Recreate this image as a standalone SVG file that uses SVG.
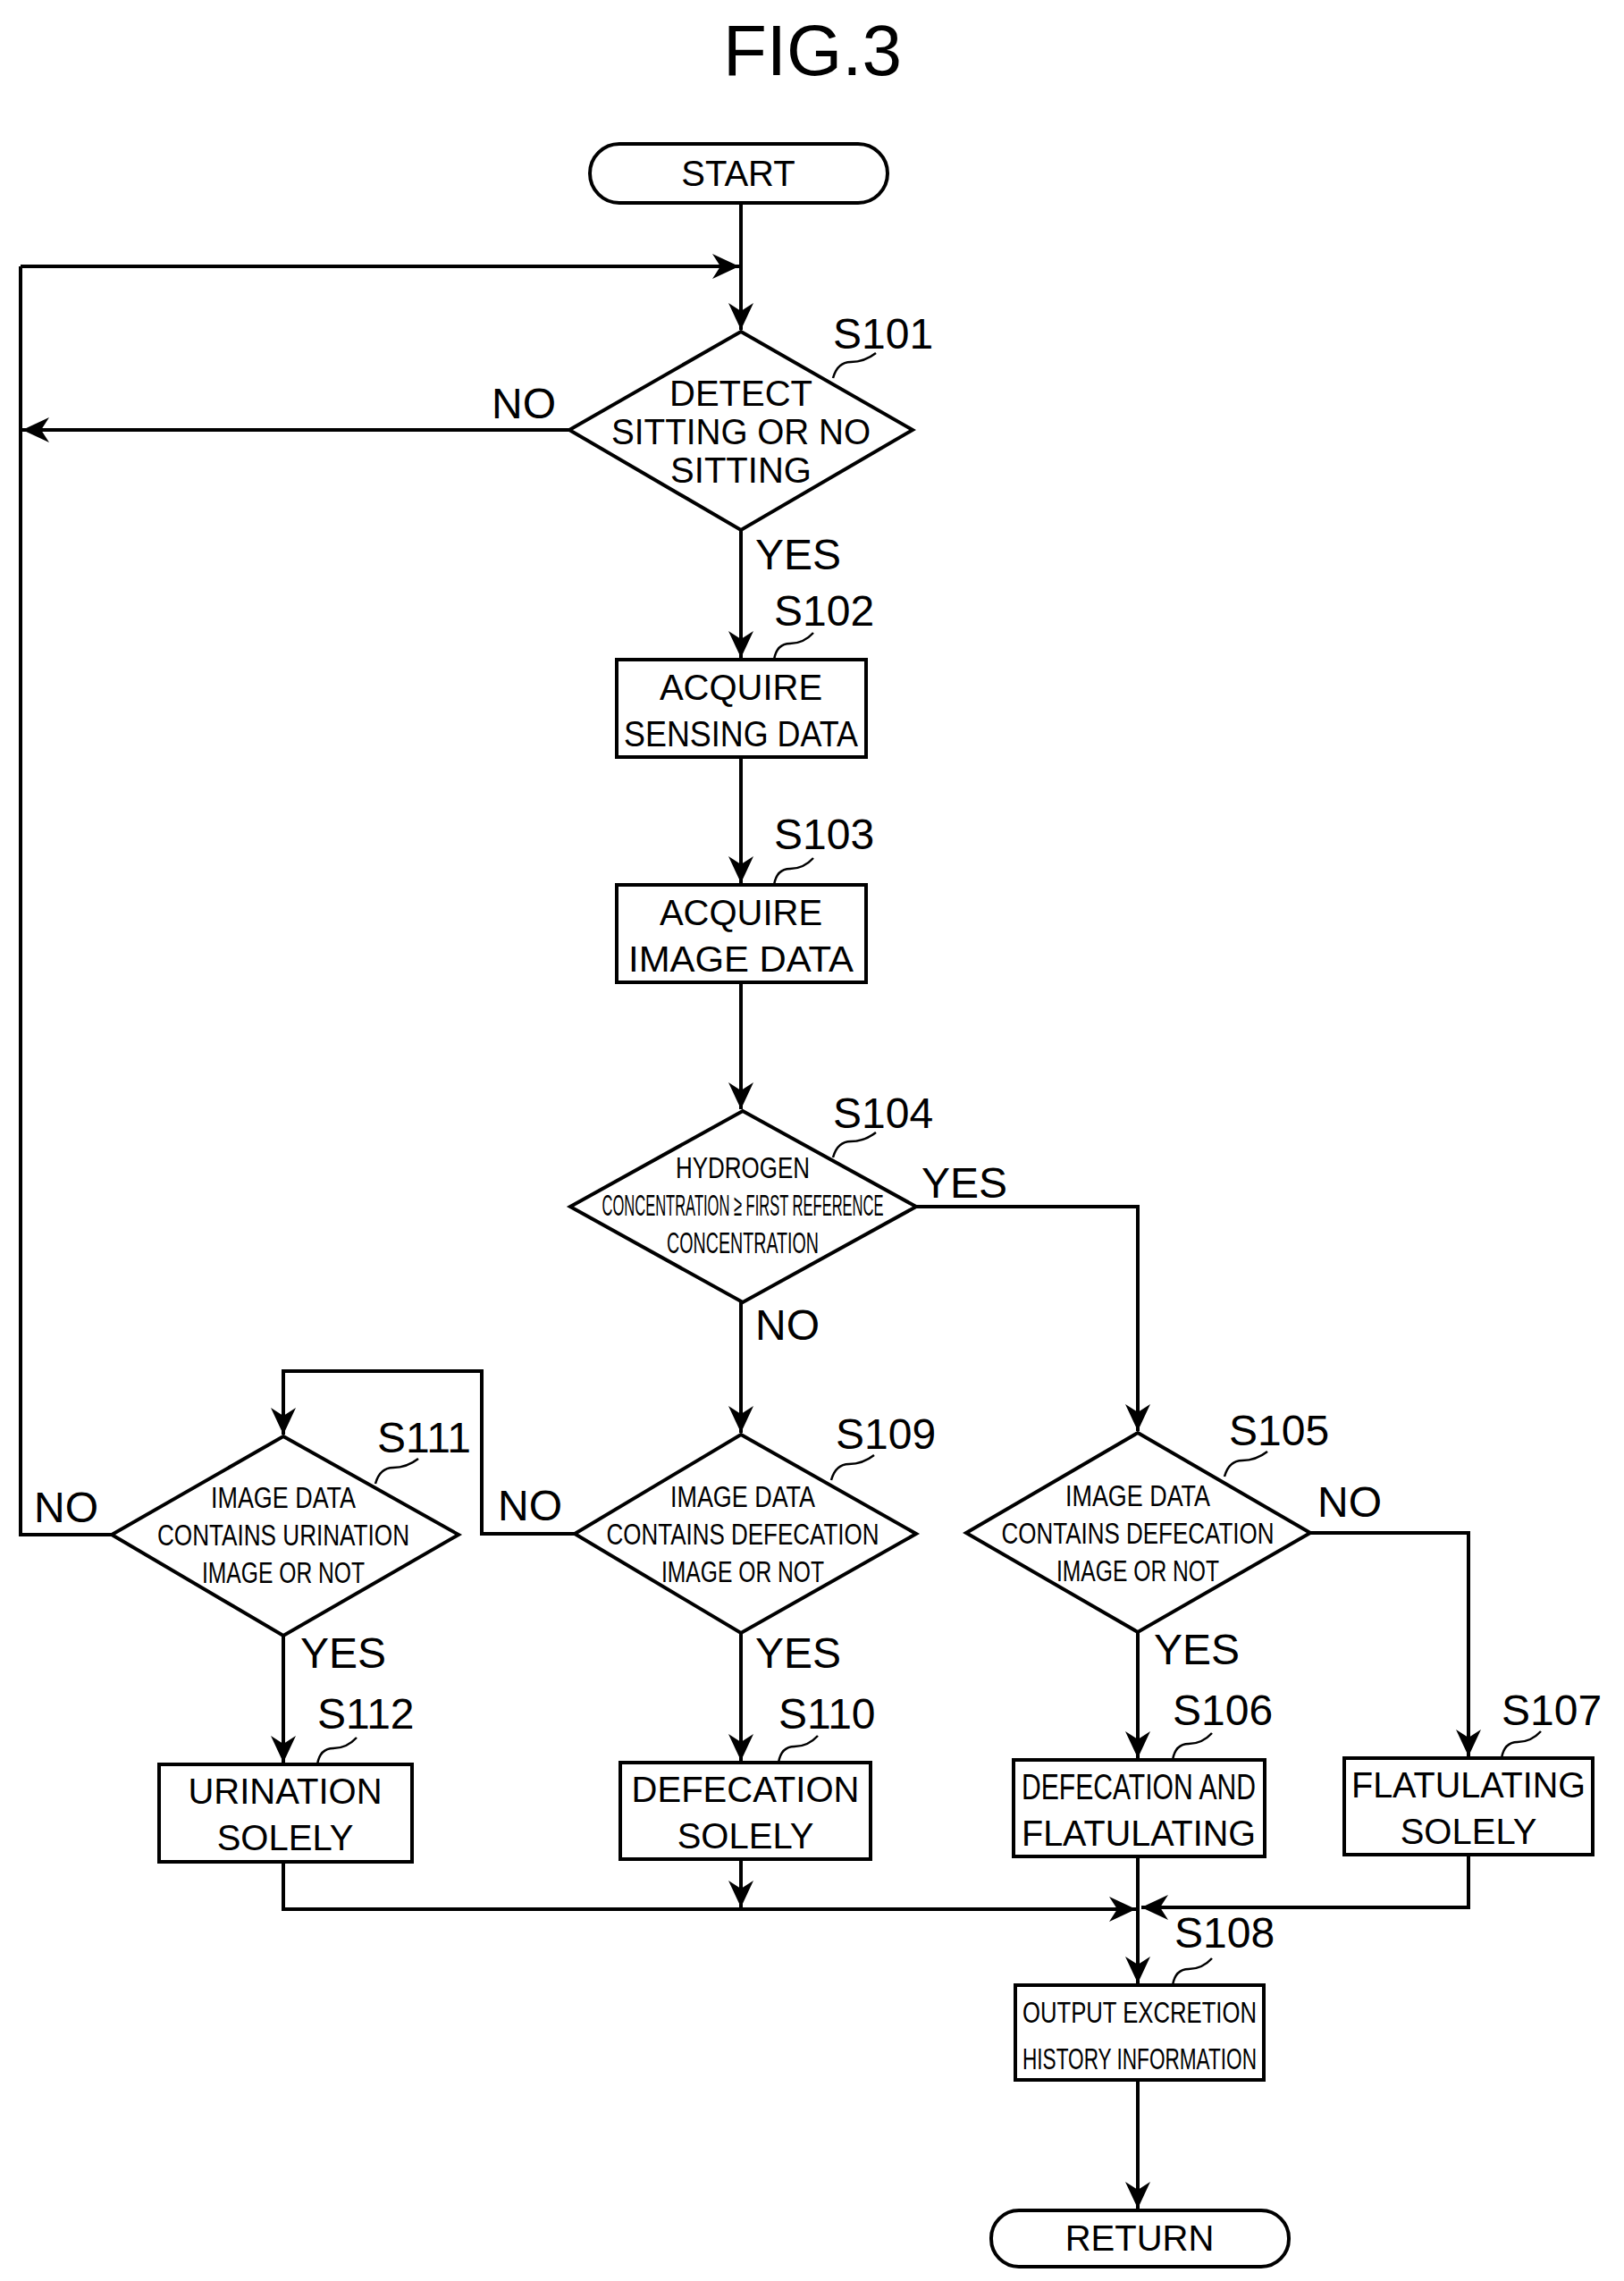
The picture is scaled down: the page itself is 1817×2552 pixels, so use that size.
<svg xmlns="http://www.w3.org/2000/svg" width="1817" height="2552" viewBox="0 0 1817 2552">
<style>
.s{fill:#fff;stroke:#000;stroke-width:4}
.c{fill:none;stroke:#000;stroke-width:4}
.l{fill:none;stroke:#000;stroke-width:2.5}
text{font-family:"Liberation Sans",Arial,sans-serif;fill:#000}
.t{font-size:40px;text-anchor:middle}
.d{font-size:34px;text-anchor:middle}
.lb{font-size:48px}
</style>
<defs>
<marker id="b" markerWidth="32" markerHeight="28" refX="30" refY="14" orient="auto" markerUnits="userSpaceOnUse"><path d="M0,0 L30,14 L0,28 L9,14 Z" fill="#000"/></marker>
</defs>
<text x="909" y="84" style="font-size:80px;text-anchor:middle">FIG.3</text>
<g id="connectors">
<path class="c" d="M829,227 V369" marker-end="url(#b)"/>
<path class="c" d="M23,298 H827" marker-end="url(#b)"/>
<path class="c" d="M637,481 H25" marker-end="url(#b)"/>
<path class="c" d="M23,481 V298"/>
<path class="c" d="M829,593 V736" marker-end="url(#b)"/>
<path class="c" d="M829,847 V988" marker-end="url(#b)"/>
<path class="c" d="M829,1099 V1241" marker-end="url(#b)"/>
<path class="c" d="M1025,1350 H1273 V1601" marker-end="url(#b)"/>
<path class="c" d="M829,1457 V1603" marker-end="url(#b)"/>
<path class="c" d="M643,1716 H539 V1534 H317 V1605" marker-end="url(#b)"/>
<path class="c" d="M125,1717 H23 V481"/>
<path class="c" d="M317,1830 V1972" marker-end="url(#b)"/>
<path class="c" d="M829,1827 V1970" marker-end="url(#b)"/>
<path class="c" d="M1273,1826 V1967" marker-end="url(#b)"/>
<path class="c" d="M1466,1715 H1643 V1965" marker-end="url(#b)"/>
<path class="c" d="M317,2083 V2136 H1271" marker-end="url(#b)"/>
<path class="c" d="M829,2080 V2134" marker-end="url(#b)"/>
<path class="c" d="M1643,2075 V2134 H1277" marker-end="url(#b)"/>
<path class="c" d="M1273,2077 V2219" marker-end="url(#b)"/>
<path class="c" d="M1273,2327 V2471" marker-end="url(#b)"/>
</g>
<g id="start"><rect class="s" x="660" y="161" width="333" height="66" rx="33"/><text class="t" x="826" y="208">START</text></g>
<g id="S101"><polygon class="s" points="829,371 1021,481 829,593 637,481"/>
<text class="t" x="829" y="454">DETECT</text><text class="t" x="829" y="497" textLength="290" lengthAdjust="spacingAndGlyphs">SITTING OR NO</text><text class="t" x="829" y="540">SITTING</text>
<text class="lb" x="932" y="390">S101</text><path class="l" d="M932,423 q5,-18 20,-18 q15,0 28,-10"/>
<text class="lb" x="550" y="468">NO</text><text class="lb" x="845" y="637">YES</text></g>
<g id="S102"><rect class="s" x="690" y="738" width="279" height="109"/><text class="t" x="829" y="783">ACQUIRE</text><text class="t" x="829" y="835" textLength="262" lengthAdjust="spacingAndGlyphs">SENSING DATA</text>
<text class="lb" x="866" y="700">S102</text><path class="l" d="M866,738 q3,-18 18,-18 q15,0 26,-12"/></g>
<g id="S103"><rect class="s" x="690" y="990" width="279" height="109"/><text class="t" x="829" y="1035">ACQUIRE</text><text class="t" x="829" y="1087" textLength="252" lengthAdjust="spacingAndGlyphs">IMAGE DATA</text>
<text class="lb" x="866" y="950">S103</text><path class="l" d="M866,990 q3,-18 18,-18 q15,0 26,-12"/></g>
<g id="S104"><polygon class="s" points="831,1243 1025,1350 831,1457 638,1350"/>
<text class="d" x="831" y="1318" textLength="150" lengthAdjust="spacingAndGlyphs">HYDROGEN</text>
<text class="d" x="831" y="1360" font-size="30" textLength="315" lengthAdjust="spacingAndGlyphs">CONCENTRATION ≥ FIRST REFERENCE</text>
<text class="d" x="831" y="1402" textLength="170" lengthAdjust="spacingAndGlyphs">CONCENTRATION</text>
<text class="lb" x="932" y="1262">S104</text><path class="l" d="M932,1295 q5,-18 20,-18 q15,0 28,-10"/>
<text class="lb" x="1031" y="1340">YES</text><text class="lb" x="845" y="1499">NO</text></g>
<g id="S105"><polygon class="s" points="1273,1603 1466,1715 1273,1826 1081,1715"/>
<text class="d" x="1273" y="1685" textLength="162" lengthAdjust="spacingAndGlyphs">IMAGE DATA</text>
<text class="d" x="1273" y="1727" textLength="305" lengthAdjust="spacingAndGlyphs">CONTAINS DEFECATION</text>
<text class="d" x="1273" y="1769" textLength="182" lengthAdjust="spacingAndGlyphs">IMAGE OR NOT</text>
<text class="lb" x="1375" y="1617">S105</text><path class="l" d="M1370,1652 q5,-18 20,-18 q15,0 28,-10"/>
<text class="lb" x="1474" y="1697">NO</text><text class="lb" x="1291" y="1862">YES</text></g>
<g id="S109"><polygon class="s" points="829,1605 1025,1716 829,1827 643,1716"/>
<text class="d" x="831" y="1686" textLength="162" lengthAdjust="spacingAndGlyphs">IMAGE DATA</text>
<text class="d" x="831" y="1728" textLength="305" lengthAdjust="spacingAndGlyphs">CONTAINS DEFECATION</text>
<text class="d" x="831" y="1770" textLength="182" lengthAdjust="spacingAndGlyphs">IMAGE OR NOT</text>
<text class="lb" x="935" y="1621">S109</text><path class="l" d="M930,1656 q5,-18 20,-18 q15,0 28,-10"/>
<text class="lb" x="557" y="1701">NO</text><text class="lb" x="845" y="1866">YES</text></g>
<g id="S111"><polygon class="s" points="317,1607 513,1717 317,1830 125,1717"/>
<text class="d" x="317" y="1687" textLength="162" lengthAdjust="spacingAndGlyphs">IMAGE DATA</text>
<text class="d" x="317" y="1729" textLength="282" lengthAdjust="spacingAndGlyphs">CONTAINS URINATION</text>
<text class="d" x="317" y="1771" textLength="182" lengthAdjust="spacingAndGlyphs">IMAGE OR NOT</text>
<text class="lb" x="422" y="1625">S111</text><path class="l" d="M420,1660 q5,-18 20,-18 q15,0 28,-10"/>
<text class="lb" x="38" y="1703">NO</text><text class="lb" x="336" y="1866">YES</text></g>
<g id="S112"><rect class="s" x="178" y="1974" width="283" height="109"/><text class="t" x="319" y="2018">URINATION</text><text class="t" x="319" y="2070">SOLELY</text>
<text class="lb" x="355" y="1934">S112</text><path class="l" d="M355,1974 q3,-18 18,-18 q15,0 26,-12"/></g>
<g id="S110"><rect class="s" x="694" y="1972" width="280" height="108"/><text class="t" x="834" y="2016">DEFECATION</text><text class="t" x="834" y="2068">SOLELY</text>
<text class="lb" x="871" y="1934">S110</text><path class="l" d="M871,1972 q3,-18 18,-18 q15,0 26,-12"/></g>
<g id="S106"><rect class="s" x="1134" y="1969" width="281" height="108"/><text class="t" x="1274" y="2013" textLength="262" lengthAdjust="spacingAndGlyphs">DEFECATION AND</text><text class="t" x="1274" y="2065" textLength="262" lengthAdjust="spacingAndGlyphs">FLATULATING</text>
<text class="lb" x="1312" y="1930">S106</text><path class="l" d="M1312,1969 q3,-18 18,-18 q15,0 26,-12"/></g>
<g id="S107"><rect class="s" x="1504" y="1967" width="278" height="108"/><text class="t" x="1643" y="2011" textLength="262" lengthAdjust="spacingAndGlyphs">FLATULATING</text><text class="t" x="1643" y="2063">SOLELY</text>
<text class="lb" x="1680" y="1930">S107</text><path class="l" d="M1680,1967 q3,-18 18,-18 q15,0 26,-12"/></g>
<g id="S108"><rect class="s" x="1136" y="2221" width="278" height="106"/><text class="d" x="1275" y="2263" textLength="262" lengthAdjust="spacingAndGlyphs">OUTPUT EXCRETION</text><text class="d" x="1275" y="2315" textLength="262" lengthAdjust="spacingAndGlyphs">HISTORY INFORMATION</text>
<text class="lb" x="1314" y="2179">S108</text><path class="l" d="M1312,2221 q3,-18 18,-18 q15,0 26,-12"/></g>
<g id="return"><rect class="s" x="1109" y="2473" width="333" height="63" rx="31"/><text class="t" x="1275" y="2518">RETURN</text></g>
</svg>
